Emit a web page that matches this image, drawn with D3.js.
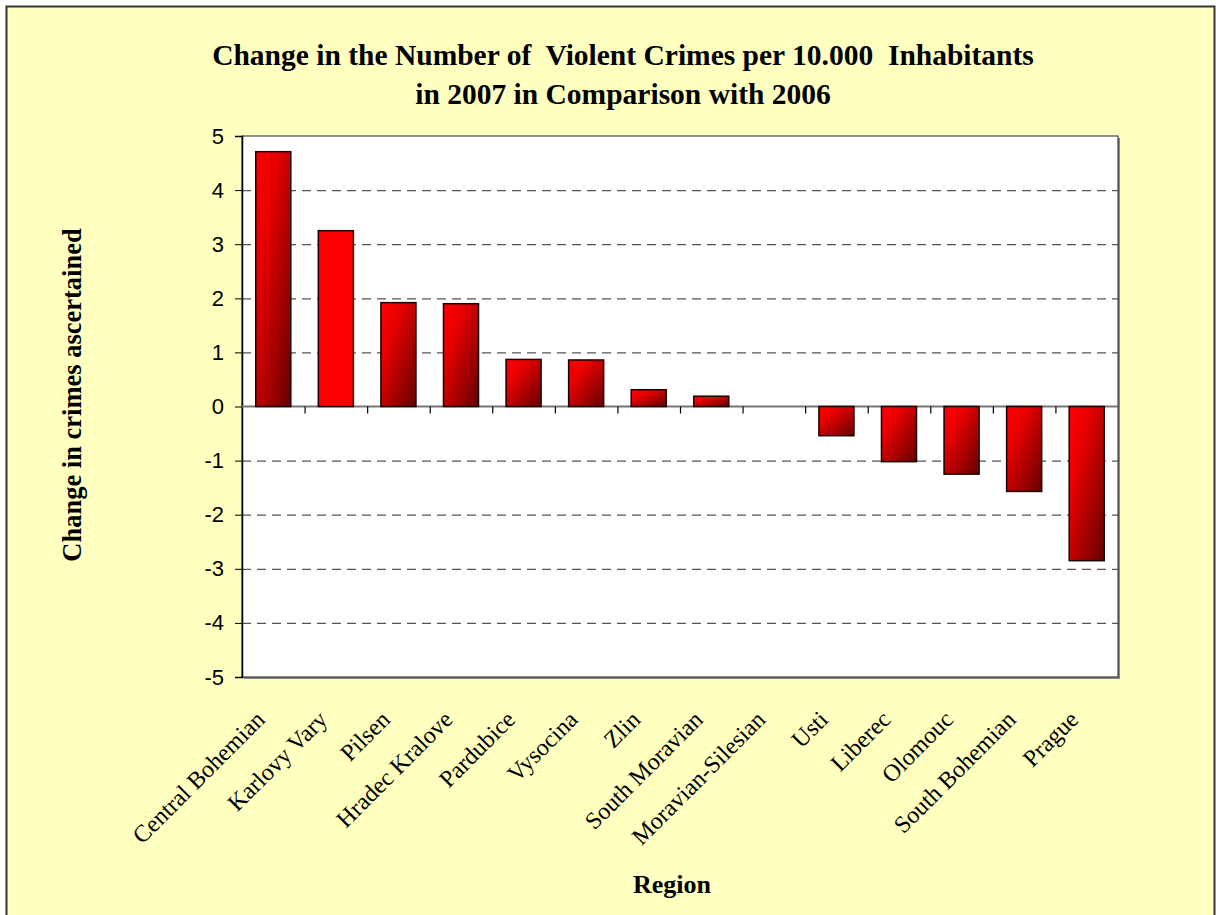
<!DOCTYPE html>
<html><head><meta charset="utf-8">
<script src="https://cdn.jsdelivr.net/npm/d3@7"></script>
<style>body{margin:0;background:#fff}svg{display:block}</style>
</head><body>
<script>
const categories = ["Central Bohemian","Karlovy Vary","Pilsen","Hradec Kralove","Pardubice","Vysocina","Zlin","South Moravian","Moravian-Silesian","Usti","Liberec","Olomouc","South Bohemian","Prague"];
const values = [4.71, 3.25, 1.92, 1.90, 0.87, 0.86, 0.31, 0.19, 0, -0.54, -1.02, -1.25, -1.57, -2.85];
const yTicks = [-5,-4,-3,-2,-1,0,1,2,3,4,5];
const titleLines = ["Change in the Number of  Violent Crimes per 10.000  Inhabitants", "in 2007 in Comparison with 2006"];
const yTitle = "Change in crimes ascertained";
const xTitle = "Region";

(function(){
const W = 1216, H = 915;
const serif = "'Times New Roman', 'Liberation Serif', serif";
const svg = d3.select("body").append("svg").attr("width", W).attr("height", H);
const defs = svg.append("defs");
const grad = defs.append("linearGradient").attr("id","g").attr("x1","0").attr("y1","0").attr("x2","1").attr("y2","1");
grad.append("stop").attr("offset","0%").attr("stop-color","#ff0000");
grad.append("stop").attr("offset","30%").attr("stop-color","#e80000");
grad.append("stop").attr("offset","100%").attr("stop-color","#650000");

svg.append("rect").attr("x",6.5).attr("y",6.5).attr("width",1208).attr("height",920)
  .attr("fill","#ffffc0").attr("stroke","#333").attr("stroke-width",2);

const pl = 242, pr = 1118, pt = 136, pb = 677;
const x = d3.scaleBand().domain(categories).range([pl, pr]).paddingInner(0.44).paddingOuter(0.22);
const xb = d3.scaleBand().domain(categories).range([pl, pr]);
const y = d3.scaleLinear().domain([-5,5]).range([pb, pt]);

// plot area
svg.append("rect").attr("x",pl+2).attr("y",pt+2).attr("width",pr-pl).attr("height",pb-pt).attr("fill","#888");
svg.append("rect").attr("x",pl).attr("y",pt).attr("width",pr-pl).attr("height",pb-pt).attr("fill","#fff").attr("stroke","#222").attr("stroke-width",1);

// gridlines
svg.append("g").selectAll("line").data(yTicks.filter(t => t !== 0 && t !== 5)).join("line")
  .attr("x1",pl).attr("x2",pr).attr("y1",d=>y(d)+0.5).attr("y2",d=>y(d)+0.5)
  .attr("stroke","#555").attr("stroke-width",1.2).attr("stroke-dasharray","9,6");

// y axis
const yAxis = d3.axisLeft(y).tickValues(yTicks).tickSize(7).tickPadding(11).tickFormat(d => String(d));
const ya = svg.append("g").attr("transform",`translate(${pl},0)`).call(yAxis);
ya.select(".domain").attr("stroke","#000").attr("stroke-width",1.5);
ya.selectAll(".tick line").attr("stroke","#000");
ya.selectAll("text").attr("font-family","Arial, 'Liberation Sans', sans-serif").attr("font-size",22).attr("fill","#000");

// zero line
svg.append("line").attr("x1",pl).attr("x2",pr).attr("y1",y(0)).attr("y2",y(0)).attr("stroke","#777").attr("stroke-width",2);

// bars
svg.append("g").selectAll("rect").data(categories).join("rect")
  .attr("x", d => x(d))
  .attr("y", (d,i) => y(Math.max(0, values[i])))
  .attr("width", x.bandwidth())
  .attr("height", (d,i) => Math.abs(y(values[i]) - y(0)))
  .attr("fill", (d,i) => i === 1 ? "#ff0000" : "url(#g)")
  .attr("stroke", "#1a0000").attr("stroke-width", 1.5)
  .style("display", (d,i) => values[i] === 0 ? "none" : null);

// x ticks at band boundaries
const bounds = categories.slice(1).map(c => xb(c));
svg.append("g").selectAll("line").data(bounds).join("line")
  .attr("x1",d=>d+0.5).attr("x2",d=>d+0.5).attr("y1",y(0)).attr("y2",y(0)+7).attr("stroke","#000").attr("stroke-width",1.2);

// category labels
svg.append("g").selectAll("text").data(categories).join("text")
  .attr("transform", d => `translate(${xb(d)+xb.bandwidth()/2 - 7},${pb+44}) rotate(-45)`)
  .attr("text-anchor","end")
  .attr("font-family",serif).attr("font-size",24)
  .text(d => d);

// titles
svg.append("g").selectAll("text").data(titleLines).join("text")
  .attr("x", 623).attr("y", (d,i) => 65 + i*39)
  .attr("text-anchor","middle")
  .attr("font-family",serif).attr("font-weight","bold").attr("font-size",29.5)
  .style("white-space","pre")
  .text(d => d);

svg.append("text").attr("transform",`translate(81,395) rotate(-90)`)
  .attr("text-anchor","middle")
  .attr("font-family",serif).attr("font-weight","bold").attr("font-size",26.5)
  .text(yTitle);

svg.append("text").attr("x",672).attr("y",893).attr("text-anchor","middle")
  .attr("font-family",serif).attr("font-weight","bold").attr("font-size",26)
  .text(xTitle);
})();
</script>
</body></html>
